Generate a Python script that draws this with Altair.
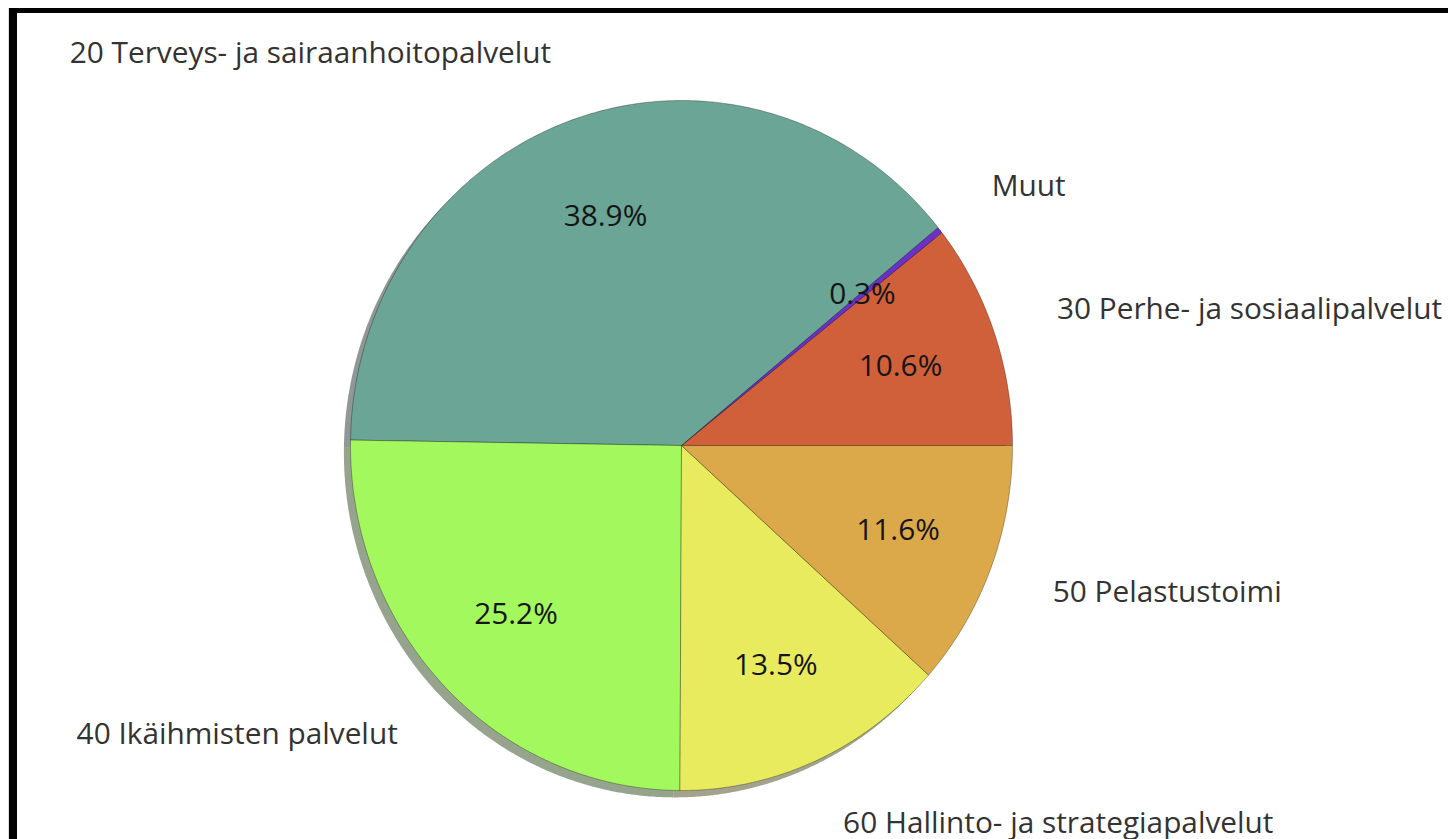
import altair as alt
import pandas as pd

# ---- data ----
categories = [
    "30 Perhe- ja sosiaalipalvelut",
    "Muut",
    "20 Terveys- ja sairaanhoitopalvelut",
    "40 Ikäihmisten palvelut",
    "60 Hallinto- ja strategiapalvelut",
    "50 Pelastustoimi",
]
values = [10.6, 0.3, 38.9, 25.2, 13.5, 11.6]
pct_labels = ["10.6%", "0.3%", "38.9%", "25.2%", "13.5%", "11.6%"]
colors = ["#d0603a", "#6a30c8", "#6aa596", "#a3f85e", "#e9eb5f", "#dba84a"]


def shade(c):
    r, g, b = (int(c[i:i + 2], 16) for i in (1, 3, 5))
    return "#%02x%02x%02x" % (int(r * 0.3), int(g * 0.3), int(b * 0.3))


shadow_colors = [shade(c) for c in colors]

df = pd.DataFrame({
    "category": categories,
    "value": values,
    "pct": pct_labels,
    "order": list(range(len(categories))),
})

W, H = 1440, 831
CX, CY = 673.5, 437.5
RX, RY = 331.0, 345.0
FONT = "Open Sans"
FS = 29.8
N = 200

xscale = alt.Scale(domain=[-1, 1], range=[CX - RX, CX + RX])
yscale = alt.Scale(domain=[-1, 1], range=[CY + RY, CY - RY])

base = (
    alt.Chart(df)
    .transform_window(cum="sum(value)", sort=[alt.SortField("order")], frame=[None, 0])
    .transform_joinaggregate(total="sum(value)")
    .transform_calculate(
        a0="2*PI*(datum.cum - datum.value)/datum.total",
        a1="2*PI*datum.cum/datum.total",
    )
    .transform_calculate(amid="(datum.a0 + datum.a1)/2")
)

poly = (
    base.transform_calculate(k=f"sequence(-1, {N + 1})")
    .transform_flatten(["k"])
    .transform_calculate(ang=f"datum.a0 + (datum.a1 - datum.a0) * datum.k / {N}")
    .transform_calculate(
        px="datum.k < 0 ? 0 : cos(datum.ang)",
        py="datum.k < 0 ? 0 : sin(datum.ang)",
    )
)

shadow = poly.transform_calculate(
    sx="datum.px - 0.02", sy="datum.py - 0.02"
).mark_line(filled=True, interpolate="linear-closed", opacity=0.5, strokeWidth=0).encode(
    x=alt.X("sx:Q", scale=xscale, axis=None),
    y=alt.Y("sy:Q", scale=yscale, axis=None),
    color=alt.Color("category:N", scale=alt.Scale(domain=categories, range=shadow_colors), legend=None),
    detail="category:N",
    order="k:Q",
)

wedges = poly.mark_line(
    filled=True, interpolate="linear-closed", stroke="#000000", strokeOpacity=0.3, strokeWidth=1
).encode(
    x=alt.X("px:Q", scale=xscale, axis=None),
    y=alt.Y("py:Q", scale=yscale, axis=None),
    fill=alt.Fill("category:N", scale=alt.Scale(domain=categories, range=colors), legend=None),
    detail="category:N",
    order="k:Q",
)

pct = base.transform_calculate(
    tx="0.7*cos(datum.amid)", ty="0.7*sin(datum.amid)"
).mark_text(font=FONT, fontSize=FS, color="#151515", align="center", baseline="middle").encode(
    x=alt.X("tx:Q", scale=xscale, axis=None),
    y=alt.Y("ty:Q", scale=yscale, axis=None),
    text="pct:N",
)

lab = base.transform_calculate(
    lx="1.2*cos(datum.amid)", ly="1.2*sin(datum.amid)", c="cos(datum.amid)"
)
lab_right = lab.transform_filter("datum.c >= 0").mark_text(
    font=FONT, fontSize=FS, color="#333333", align="left", baseline="middle"
).encode(
    x=alt.X("lx:Q", scale=xscale, axis=None),
    y=alt.Y("ly:Q", scale=yscale, axis=None),
    text="category:N",
)
lab_left = lab.transform_filter("datum.c < 0").mark_text(
    font=FONT, fontSize=FS, color="#333333", align="right", baseline="middle"
).encode(
    x=alt.X("lx:Q", scale=xscale, axis=None),
    y=alt.Y("ly:Q", scale=yscale, axis=None),
    text="category:N",
)

frame_data = alt.Data(values=[{"f": 1}])
frame_left = alt.Chart(frame_data).mark_rect(color="#000000").encode(
    x=alt.value(1), x2=alt.value(9), y=alt.value(0), y2=alt.value(H)
)
frame_top = alt.Chart(frame_data).mark_rect(color="#000000").encode(
    x=alt.value(1), x2=alt.value(W), y=alt.value(0), y2=alt.value(5)
)

chart = (
    alt.layer(shadow, wedges, pct, lab_right, lab_left, frame_left, frame_top)
    .properties(width=W, height=H, autosize=alt.AutoSizeParams(type="none"), padding=0)
    .configure_view(stroke=None)
    .configure(background="#ffffff")
)

chart.save("out.html", embed_options={"renderer": "svg", "actions": False})
